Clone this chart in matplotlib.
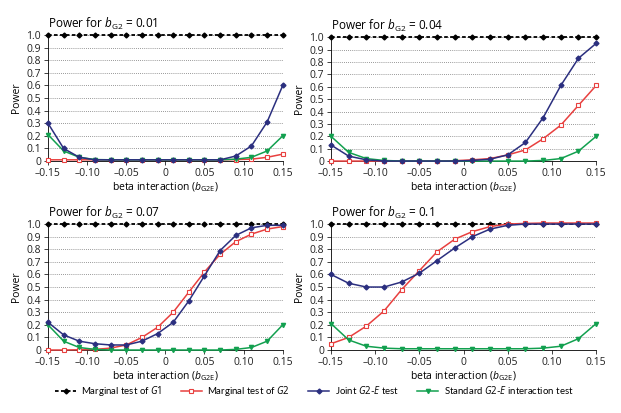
import matplotlib
matplotlib.use("Agg")
import matplotlib.pyplot as plt
import numpy as np

plt.rcParams['font.family'] = ['Open Sans', 'DejaVu Sans']
plt.rcParams['mathtext.fontset'] = 'custom'
plt.rcParams['mathtext.rm'] = 'Open Sans'
plt.rcParams['mathtext.it'] = 'Open Sans:italic'

# x values: beta interaction b_G2E
beta = [-0.15, -0.13, -0.11, -0.09, -0.07, -0.05, -0.03, -0.01,
        0.01, 0.03, 0.05, 0.07, 0.09, 0.11, 0.13, 0.15]

bg2_values = ["0.01", "0.04", "0.07", "0.1"]

g1_01 = [1.0] * 16
g2_01 = [0.01, 0.01, 0.01, 0.01, 0.01, 0.01, 0.01, 0.01, 0.01, 0.01, 0.01, 0.01, 0.012, 0.015, 0.03, 0.055]
joint_01 = [0.30, 0.10, 0.03, 0.01, 0.01, 0.01, 0.01, 0.01, 0.01, 0.01, 0.01, 0.01, 0.04, 0.12, 0.31, 0.60]
std_01 = [0.21, 0.08, 0.03, 0.012, 0.01, 0.01, 0.01, 0.01, 0.01, 0.01, 0.01, 0.01, 0.015, 0.03, 0.08, 0.20]

g1_04 = [1.0] * 16
g2_04 = [0.0, 0.0, 0.0, 0.0, 0.0, 0.0, 0.0, 0.003, 0.01, 0.02, 0.05, 0.09, 0.18, 0.29, 0.45, 0.61]
joint_04 = [0.13, 0.04, 0.01, 0.0, 0.0, 0.0, 0.0, 0.0, 0.005, 0.015, 0.05, 0.15, 0.35, 0.61, 0.83, 0.95]
std_04 = [0.20, 0.07, 0.02, 0.005, 0.0, 0.0, 0.0, 0.0, 0.0, 0.0, 0.0, 0.0, 0.005, 0.02, 0.08, 0.20]

g1_07 = [1.0] * 16
g2_07 = [0.0, 0.0, 0.002, 0.005, 0.015, 0.04, 0.10, 0.18, 0.30, 0.46, 0.62, 0.76, 0.86, 0.92, 0.96, 0.98]
joint_07 = [0.22, 0.12, 0.07, 0.05, 0.04, 0.04, 0.07, 0.13, 0.22, 0.39, 0.59, 0.79, 0.91, 0.97, 0.99, 0.99]
std_07 = [0.20, 0.07, 0.02, 0.005, 0.0, 0.0, 0.0, 0.0, 0.0, 0.0, 0.0, 0.0, 0.005, 0.02, 0.07, 0.20]

g1_10 = [1.0] * 16
g2_10 = [0.05, 0.10, 0.19, 0.31, 0.48, 0.63, 0.78, 0.88, 0.94, 0.98, 1.0, 1.005, 1.008, 1.008, 1.008, 1.008]
joint_10 = [0.60, 0.53, 0.50, 0.50, 0.54, 0.61, 0.71, 0.81, 0.90, 0.96, 0.99, 1.0, 1.0, 1.0, 1.0, 1.0]
std_10 = [0.21, 0.08, 0.03, 0.015, 0.01, 0.01, 0.01, 0.01, 0.01, 0.01, 0.01, 0.01, 0.015, 0.03, 0.09, 0.21]

panels = [
    (g1_01, g2_01, joint_01, std_01),
    (g1_04, g2_04, joint_04, std_04),
    (g1_07, g2_07, joint_07, std_07),
    (g1_10, g2_10, joint_10, std_10),
]

xticks = [-0.15, -0.10, -0.05, 0, 0.05, 0.10, 0.15]
xticklabels = ["\u20130.15", "\u20130.10", "\u20130.05", "0", "0.05", "0.10", "0.15"]
yticks = np.arange(0, 1.01, 0.1)
yticklabels = ["0"] + ["%.1f" % v for v in yticks[1:]]

blue = "#2b2f7f"
red = "#e8403f"
green = "#12a04f"

fig = plt.figure(figsize=(6.21, 4.13), dpi=100)
rects = [
    [0.0773, 0.610, 0.378, 0.305],
    [0.533, 0.610, 0.427, 0.300],
    [0.0773, 0.1525, 0.378, 0.305],
    [0.533, 0.1525, 0.427, 0.305],
]

handles = None
for i, (g1, g2, joint, std) in enumerate(panels):
    ax = fig.add_axes(rects[i])
    ax.set_xlim(-0.15, 0.15)
    ax.set_ylim(0, 1.0)
    for y in yticks:
        ax.axhline(y, color="#777777", lw=0.6, ls=(0, (1, 1.5)), zorder=0)
    l1, = ax.plot(beta, g1, color="black", ls=(0, (2, 1.3)), lw=1.3, marker="D",
                  ms=2.5, clip_on=False, zorder=3)
    l2, = ax.plot(beta, g2, color=red, lw=1.1, marker="s", ms=3.5, mfc="white",
                  mec=red, mew=0.8, clip_on=False, zorder=4)
    l3, = ax.plot(beta, joint, color=blue, lw=1.1, marker="D", ms=2.5,
                  clip_on=False, zorder=5)
    l4, = ax.plot(beta, std, color=green, lw=1.1, marker="v", ms=3,
                  clip_on=False, zorder=4)
    handles = [l1, l2, l3, l4]
    ax.set_xticks(xticks)
    ax.set_xticklabels(xticklabels, fontsize=7.5)
    ax.set_yticks(yticks)
    ax.set_yticklabels(yticklabels, fontsize=7.5)
    ax.tick_params(length=3, width=0.6, pad=2, colors="#222222")
    for s in ["top", "right"]:
        ax.spines[s].set_visible(False)
    for s in ["left", "bottom"]:
        ax.spines[s].set_linewidth(0.6)
    ax.set_xlabel("beta interaction ($b_{\\mathrm{G2E}}$)", fontsize=7.5, labelpad=1)
    ax.set_ylabel("Power", fontsize=7.5, labelpad=3)
    ax.set_title("Power for $b_{\\mathrm{G2}}$ = " + bg2_values[i], loc="left",
                 fontsize=8.5, pad=5)

fig.legend(handles,
           ["Marginal test of $G1$", "Marginal test of $G2$",
            "Joint $G2$-$E$ test", "Standard $G2$-$E$ interaction test"],
           loc="center left", bbox_to_anchor=(0.0886, 0.053), ncol=4, frameon=False,
           prop={"family": "Lato", "size": 6.9}, handlelength=2.2,
           columnspacing=1.9, handletextpad=0.55, borderpad=0, borderaxespad=0)

fig.savefig("out.png", dpi=100)
